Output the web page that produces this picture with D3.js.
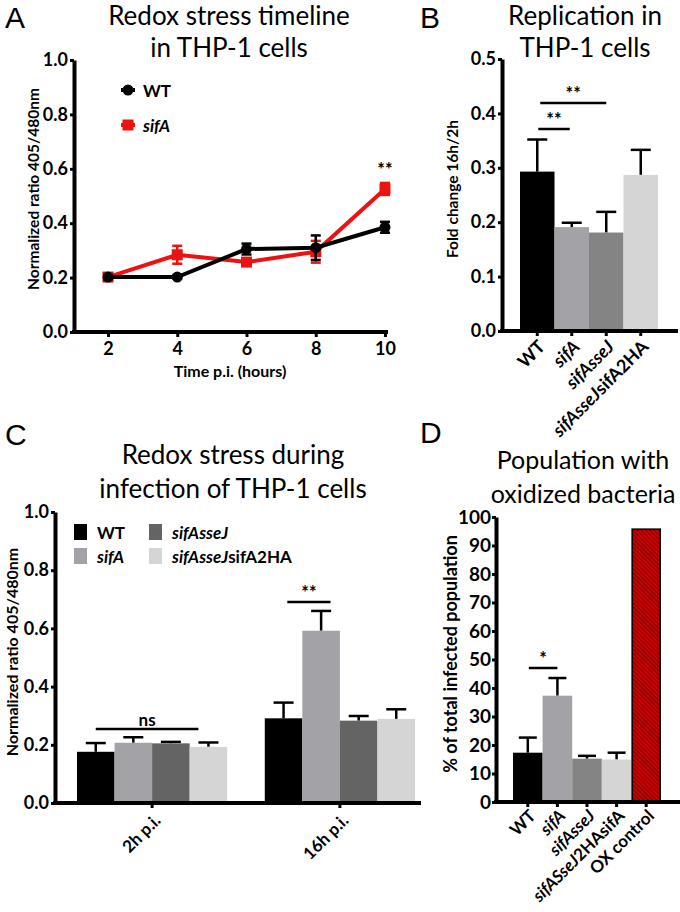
<!DOCTYPE html>
<html><head><meta charset="utf-8">
<script src="https://cdn.jsdelivr.net/npm/d3@7"></script>
<style>
html,body{margin:0;padding:0;background:#fff;}
svg{display:block;}
</style></head>
<body>
<svg id="fig" width="680" height="912"></svg>
<script>
// ---------- DATA ----------
// Panel A
const timeA = [2, 4, 6, 8, 10];
const wtA = [0.202, 0.202, 0.305, 0.31, 0.385];
const wtAErr = [0.008, 0.005, 0.02, 0.045, 0.02];
const sifAA = [0.202, 0.284, 0.257, 0.295, 0.526];
const sifAAErr = [0.008, 0.033, 0.012, 0.04, 0.022];
const ticksAY = [0, 0.2, 0.4, 0.6, 0.8, 1.0];
const ticksAX = [2, 4, 6, 8, 10];
// Panel B
const categoriesB = ["WT", "sifA", "sifAsseJ", "sifAsseJsifA2HA"];
const valuesB = [0.293, 0.191, 0.181, 0.287];
const errB = [0.059, 0.008, 0.038, 0.046];
const ticksBY = [0, 0.1, 0.2, 0.3, 0.4, 0.5];
// Panel C
const groupsC = ["2h p.i.", "16h p.i."];
const seriesC = ["WT", "sifA", "sifAsseJ", "sifAsseJsifA2HA"];
const values2hC = [0.176, 0.207, 0.205, 0.193];
const err2hC = [0.03, 0.019, 0.005, 0.015];
const values16hC = [0.291, 0.592, 0.283, 0.289];
const err16hC = [0.054, 0.068, 0.016, 0.033];
const ticksCY = [0, 0.2, 0.4, 0.6, 0.8, 1.0];
// Panel D
const categoriesD = ["WT", "sifA", "sifAsseJ", "sifASseJ2HAsifA", "OX control"];
const valuesD = [17.3, 37.3, 15.2, 14.9, 96];
const errD = [5.3, 6.2, 1.0, 2.4, 0];
const ticksDY = [0, 10, 20, 30, 40, 50, 60, 70, 80, 90, 100];

// ---------- STYLE ----------
const FONT = "Lato, 'Open Sans', sans-serif";
const LETTER_FONT = "'Liberation Sans', Arial, sans-serif";
const colorsB = {"WT": "#000000", "sifA": "#a3a3a7", "sifAsseJ": "#848484", "sifAsseJsifA2HA": "#d5d5d5"};
const colorsC = {"WT": "#000000", "sifA": "#a3a3a7", "sifAsseJ": "#646464", "sifAsseJsifA2HA": "#d5d5d5"};
const colorsD = {"WT": "#000000", "sifA": "#a3a3a7", "sifAsseJ": "#848484", "sifASseJ2HAsifA": "#d5d5d5", "OX control": "url(#hatch)"};

const svg = d3.select("#fig");
svg.append("rect").attr("width", 680).attr("height", 912).attr("fill", "#fff");

const defs = svg.append("defs");
const pat = defs.append("pattern").attr("id", "hatch").attr("patternUnits", "userSpaceOnUse")
  .attr("width", 3).attr("height", 3).attr("patternTransform", "rotate(-45)");
pat.append("rect").attr("width", 3).attr("height", 3).attr("fill", "#d00000");
pat.append("rect").attr("width", 1.1).attr("height", 3).attr("fill", "#7a0000");

// helpers
function labelParts(name) {
  const m = name.match(/^(sifA(?:[sS]seJ)?)(.*)$/);
  if (!m) return [[name, false]];
  const parts = [[m[1], true]];
  if (m[2]) parts.push([m[2], false]);
  return parts;
}
function addParts(textSel, name) {
  labelParts(name).forEach(([t, it]) => {
    textSel.append("tspan").text(t).attr("font-style", it ? "italic" : "normal");
  });
}
function styleAxis(g, size) {
  g.selectAll("path.domain").attr("stroke", "#000").attr("stroke-width", 4);
  g.selectAll(".tick line").attr("stroke", "#000").attr("stroke-width", 3);
  g.selectAll(".tick text").attr("font-family", FONT).attr("font-weight", 700)
    .attr("font-size", size || 18).attr("fill", "#000");
}
function title(x, lines, ys, size) {
  lines.forEach((l, i) => {
    svg.append("text").attr("x", x).attr("y", ys[i]).attr("text-anchor", "middle")
      .attr("font-family", FONT).attr("font-size", size).attr("fill", "#000").text(l);
  });
}
function letter(x, y, t) {
  svg.append("text").attr("x", x).attr("y", y).attr("font-family", LETTER_FONT)
    .attr("font-size", 30).attr("fill", "#000").text(t);
}
function yLabel(x, y, t, size) {
  svg.append("text").attr("transform", `translate(${x},${y}) rotate(-90)`)
    .attr("text-anchor", "middle").attr("dominant-baseline", "central")
    .attr("font-family", FONT).attr("font-weight", 700).attr("font-size", size)
    .attr("fill", "#000").text(t);
}
function sig(x1, x2, y, label, size) {
  svg.append("line").attr("x1", x1).attr("x2", x2).attr("y1", y).attr("y2", y)
    .attr("stroke", "#000").attr("stroke-width", 2.5);
  svg.append("text").attr("x", (x1 + x2) / 2).attr("y", y - 3).attr("text-anchor", "middle")
    .attr("font-family", FONT).attr("font-size", size).attr("font-weight", 700)
    .attr("fill", "#000").text(label);
}

// ---------- PANEL A ----------
letter(5, 28, "A");
title(229, ["Redox stress timeline", "in THP-1 cells"], [25, 57], 26);
const yA = d3.scaleLinear().domain([0, 1]).range([332, 60]);
const xA = d3.scaleLinear().domain([2, 10]).range([108, 385]);
const gAY = svg.append("g").attr("transform", "translate(74,0)")
  .call(d3.axisLeft(yA).tickValues(ticksAY).tickFormat(d3.format(".1f")).tickSize(4).tickSizeOuter(0).tickPadding(2));
styleAxis(gAY);
const gAX = svg.append("g").attr("transform", "translate(0,332)")
  .call(d3.axisBottom(xA).tickValues(ticksAX).tickSize(5).tickSizeOuter(0).tickPadding(5));
styleAxis(gAX);
gAX.select("path.domain").remove();
gAX.append("line").attr("x1", 72).attr("x2", xA(10) + 3).attr("stroke", "#000").attr("stroke-width", 4);
yLabel(33, 189, "Normalized ratio 405/480nm", 15.5);
svg.append("text").attr("x", 230).attr("y", 377).attr("text-anchor", "middle")
  .attr("font-family", FONT).attr("font-weight", 700).attr("font-size", 16).text("Time p.i. (hours)");

function drawSeriesA(vals, errs, color, shape) {
  const pts = timeA.map((t, i) => ({t, v: vals[i], e: errs[i]}));
  svg.append("path").datum(pts)
    .attr("d", d3.line().x(d => xA(d.t)).y(d => yA(d.v)))
    .attr("fill", "none").attr("stroke", color).attr("stroke-width", 4);
  const g = svg.append("g");
  pts.forEach(d => {
    const x = xA(d.t);
    g.append("line").attr("x1", x).attr("x2", x).attr("y1", yA(d.v - d.e)).attr("y2", yA(d.v + d.e))
      .attr("stroke", color).attr("stroke-width", 2.5);
    [d.v - d.e, d.v + d.e].forEach(c => g.append("line").attr("x1", x - 5).attr("x2", x + 5)
      .attr("y1", yA(c)).attr("y2", yA(c)).attr("stroke", color).attr("stroke-width", 2.5));
    if (shape === "circle") g.append("circle").attr("cx", x).attr("cy", yA(d.v)).attr("r", 5.5).attr("fill", color);
    else g.append("rect").attr("x", x - 5.5).attr("y", yA(d.v) - 5.5).attr("width", 11).attr("height", 11).attr("fill", color);
  });
}
drawSeriesA(sifAA, sifAAErr, "#ee1111", "square");
drawSeriesA(wtA, wtAErr, "#000000", "circle");
svg.append("text").attr("x", xA(10)).attr("y", 176).attr("text-anchor", "middle")
  .attr("font-family", FONT).attr("font-weight", 700).attr("font-size", 18).text("**");
// legend A
[["WT", "#000", "circle", 90], ["sifA", "#ee1111", "square", 125]].forEach(([n, c, s, y]) => {
  svg.append("line").attr("x1", 121).attr("x2", 135).attr("y1", y).attr("y2", y).attr("stroke", c).attr("stroke-width", 4);
  if (s === "circle") svg.append("circle").attr("cx", 128).attr("cy", y).attr("r", 5.5).attr("fill", c);
  else svg.append("rect").attr("x", 122.5).attr("y", y - 5.5).attr("width", 11).attr("height", 11).attr("fill", c);
  const t = svg.append("text").attr("x", 143).attr("y", y).attr("dominant-baseline", "central")
    .attr("font-family", FONT).attr("font-weight", 700).attr("font-size", 17);
  addParts(t, n);
});

// ---------- PANEL B ----------
letter(420, 28, "B");
title(585, ["Replication in", "THP-1 cells"], [25, 57], 26);
const yB = d3.scaleLinear().domain([0, 0.5]).range([331, 59]);
const xB = d3.scaleBand().domain(categoriesB).range([520, 658]).padding(0);
const gBY = svg.append("g").attr("transform", "translate(502,0)")
  .call(d3.axisLeft(yB).tickValues(ticksBY).tickFormat(d3.format(".1f")).tickSize(4).tickSizeOuter(0).tickPadding(2));
styleAxis(gBY);
yLabel(452, 189, "Fold change 16h/2h", 15.5);
function barsWithErr(cats, vals, errs, xs, ys, colors, capW) {
  cats.forEach((c, i) => {
    const x = xs(c), w = xs.bandwidth();
    const cx = x + w / 2;
    if (errs[i] > 0) {
      svg.append("line").attr("x1", cx).attr("x2", cx).attr("y1", ys(vals[i])).attr("y2", ys(vals[i] + errs[i]))
        .attr("stroke", "#000").attr("stroke-width", 2.5);
      svg.append("line").attr("x1", cx - capW / 2).attr("x2", cx + capW / 2)
        .attr("y1", ys(vals[i] + errs[i])).attr("y2", ys(vals[i] + errs[i])).attr("stroke", "#000").attr("stroke-width", 2.5);
    }
    const r = svg.append("rect").attr("x", x).attr("y", ys(vals[i])).attr("width", w)
      .attr("height", ys(0) - ys(vals[i])).attr("fill", colors[c]);
    if (c === "OX control") r.attr("stroke", "#000").attr("stroke-width", 1.5)
      .attr("x", x + 0.75).attr("width", w - 1.5).attr("y", ys(vals[i]) + 0.75).attr("height", ys(0) - ys(vals[i]) - 0.75);
  });
}
barsWithErr(categoriesB, valuesB, errB, xB, yB, colorsB, 20);
const gBX = svg.append("g").attr("transform", "translate(0,331)")
  .call(d3.axisBottom(xB).tickSize(5).tickSizeOuter(0).tickFormat(""));
styleAxis(gBX);
gBX.select("path.domain").remove();
gBX.append("line").attr("x1", 500).attr("x2", 678).attr("stroke", "#000").attr("stroke-width", 4);
categoriesB.forEach(c => {
  const t = svg.append("text").attr("transform", `translate(${xB(c) + xB.bandwidth() / 2 + 4},${343}) rotate(-45)`)
    .attr("text-anchor", "end").attr("dominant-baseline", "central")
    .attr("font-family", FONT).attr("font-weight", 700).attr("font-size", 18);
  addParts(t, c);
});
const cB = c => xB(c) + xB.bandwidth() / 2;
sig(cB("WT") + 1, cB("sifA") - 2, 129, "**", 18);
sig(cB("WT") + 3, cB("sifAsseJ"), 103, "**", 18);

// ---------- PANEL C ----------
letter(5, 445, "C");
title(233, ["Redox stress during", "infection of THP-1 cells"], [464, 498], 26);
const yC = d3.scaleLinear().domain([0, 1]).range([803, 512]);
const x0C = d3.scaleBand().domain(groupsC).range([58.2, 433.8]).paddingInner(0.2).paddingOuter(0.1);
const x1C = d3.scaleBand().domain(seriesC).range([0, x0C.bandwidth()]).padding(0);
const gCY = svg.append("g").attr("transform", "translate(55,0)")
  .call(d3.axisLeft(yC).tickValues(ticksCY).tickFormat(d3.format(".1f")).tickSize(4).tickSizeOuter(0).tickPadding(2));
styleAxis(gCY);
yLabel(11, 652, "Normalized ratio 405/480nm", 16);
[[values2hC, err2hC], [values16hC, err16hC]].forEach(([vals, errs], gi) => {
  const off = x0C(groupsC[gi]);
  const xs = d3.scaleBand().domain(seriesC).range([off, off + x0C.bandwidth()]).padding(0);
  barsWithErr(seriesC, vals, errs, xs, yC, colorsC, 20);
});
const gCX = svg.append("g").attr("transform", "translate(0,803)")
  .call(d3.axisBottom(x0C).tickSize(5).tickSizeOuter(0).tickFormat(""));
styleAxis(gCX);
gCX.select("path.domain").remove();
gCX.append("line").attr("x1", 53).attr("x2", 421).attr("stroke", "#000").attr("stroke-width", 4);
groupsC.forEach(g => {
  svg.append("text").attr("transform", `translate(${x0C(g) + x0C.bandwidth() / 2 + 5},${817}) rotate(-45)`)
    .attr("text-anchor", "end").attr("dominant-baseline", "central")
    .attr("font-family", FONT).attr("font-weight", 700).attr("font-size", 17).text(g);
});
// legend C
seriesC.forEach((s, i) => {
  const col = Math.floor(i / 2), row = i % 2;
  const lx = col === 0 ? 74 : 149, ly = 524 + row * 24;
  svg.append("rect").attr("x", lx).attr("y", ly).attr("width", 13).attr("height", 16).attr("fill", colorsC[s]);
  const t = svg.append("text").attr("x", lx + 23).attr("y", ly + 8).attr("dominant-baseline", "central")
    .attr("font-family", FONT).attr("font-weight", 700).attr("font-size", 17);
  addParts(t, s);
});
const g2 = x0C("2h p.i."), g16 = x0C("16h p.i.");
const x1w = x1C.bandwidth();
sig(g2 + x1w * 0.5, g2 + x1w * 3.5 - 10, 729, "ns", 17);
sig(g16 + x1w * 0.6, g16 + x1w * 1.75, 602, "**", 18);

// ---------- PANEL D ----------
letter(420, 443, "D");
title(583, ["Population with", "oxidized bacteria"], [469, 503], 25);
const yD = d3.scaleLinear().domain([0, 100]).range([802, 517]);
const xD = d3.scaleBand().domain(categoriesD).range([513, 661]).padding(0);
const gDY = svg.append("g").attr("transform", "translate(496,0)")
  .call(d3.axisLeft(yD).tickValues(ticksDY).tickFormat(d3.format("d")).tickSize(4).tickSizeOuter(0).tickPadding(1));
styleAxis(gDY, 19);
yLabel(450, 654, "% of total infected population", 18);
barsWithErr(categoriesD, valuesD, errD, xD, yD, colorsD, 18);
const gDX = svg.append("g").attr("transform", "translate(0,802)")
  .call(d3.axisBottom(xD).tickSize(5).tickSizeOuter(0).tickFormat(""));
styleAxis(gDX);
gDX.select("path.domain").remove();
gDX.append("line").attr("x1", 494).attr("x2", 680).attr("stroke", "#000").attr("stroke-width", 4);
categoriesD.forEach(c => {
  const t = svg.append("text").attr("transform", `translate(${xD(c) + xD.bandwidth() / 2 + 4},${812}) rotate(-45)`)
    .attr("text-anchor", "end").attr("dominant-baseline", "central")
    .attr("font-family", FONT).attr("font-weight", 700).attr("font-size", 17);
  addParts(t, c);
});
const cD = c => xD(c) + xD.bandwidth() / 2;
sig(cD("WT") + 1, cD("sifA"), 668, "*", 18);
</script>
</body></html>
